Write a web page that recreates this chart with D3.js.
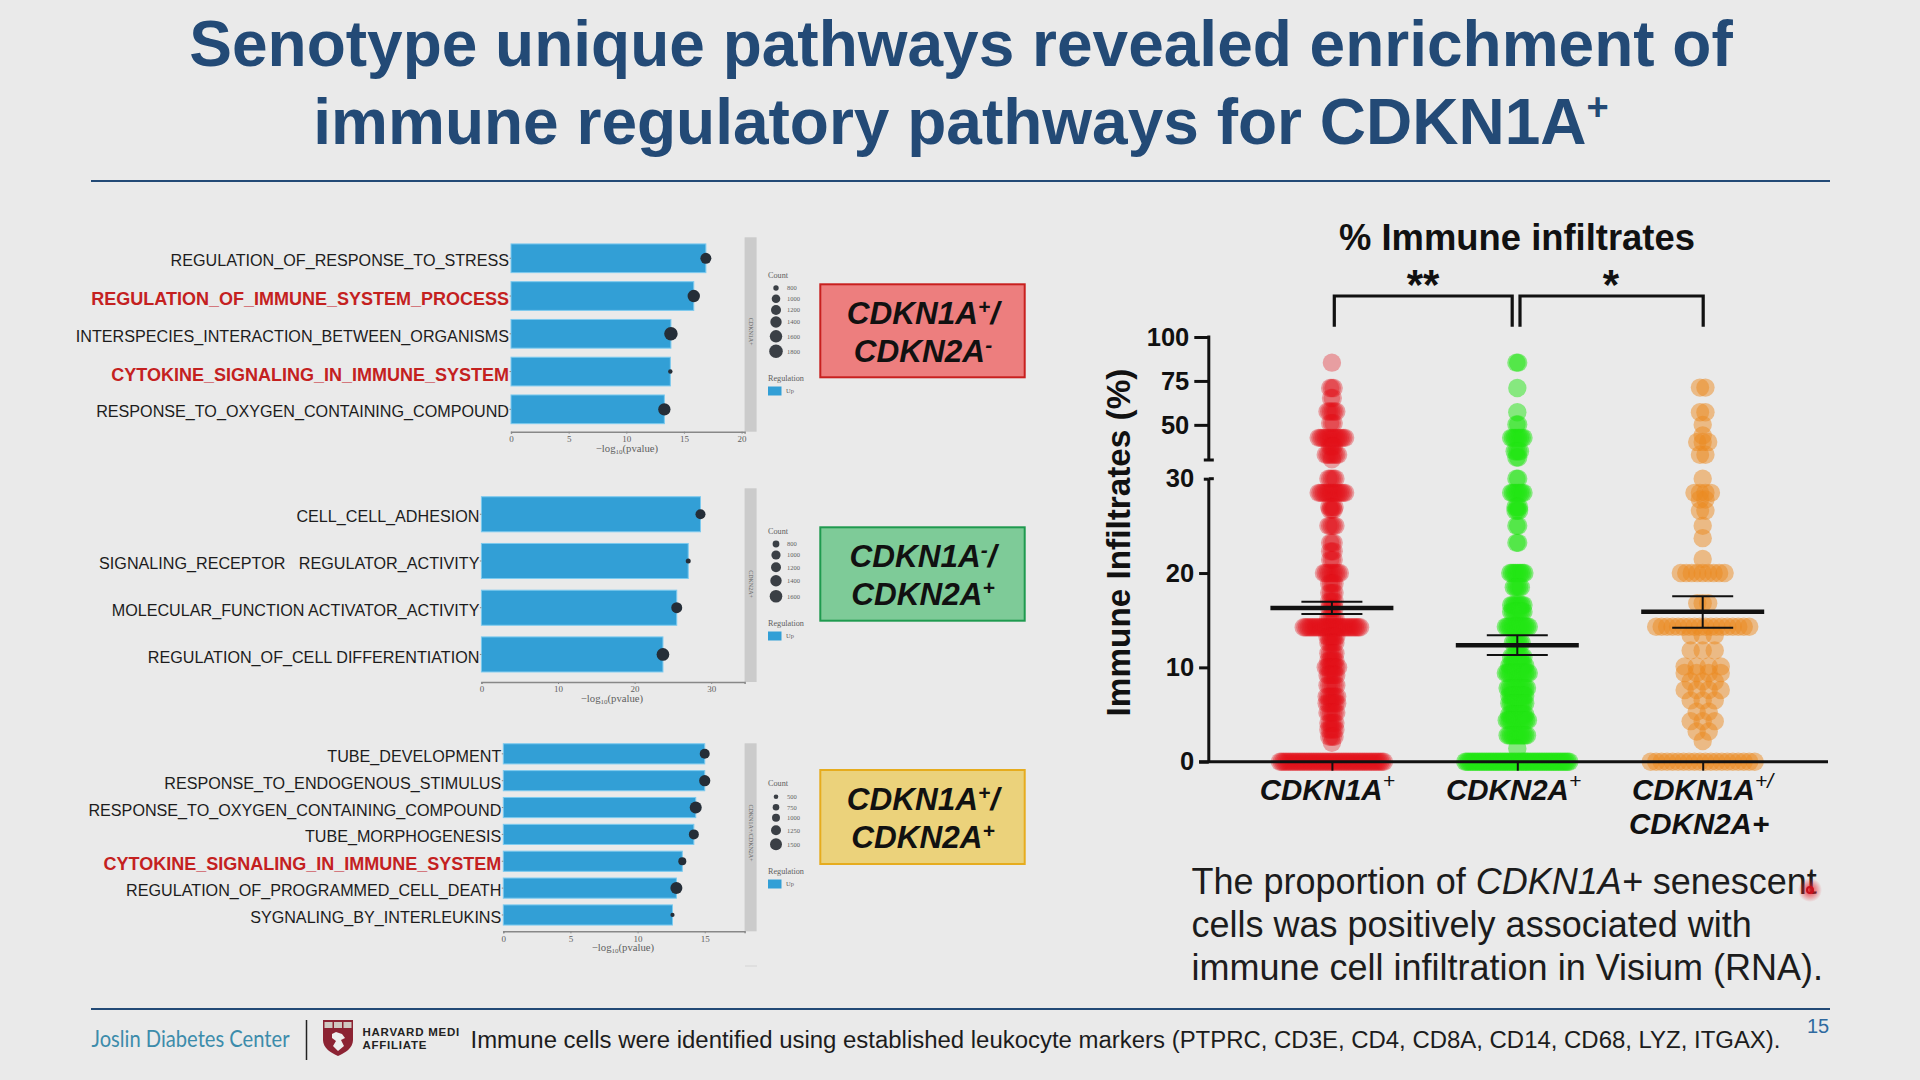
<!DOCTYPE html>
<html>
<head>
<meta charset="utf-8">
<script src="https://cdnjs.cloudflare.com/ajax/libs/d3/7.8.5/d3.min.js"></script>
<style>
	html, body { margin: 0; padding: 0; background: #eaeaea; overflow: hidden; }
	svg { display: block; }
	text { font-family: "Liberation Sans", Arial, sans-serif; }
	.tiny text, text.tiny { font-family: "Liberation Serif", serif; fill: #5f5f5f; }
</style>
</head>
<body>
<div id="slide"></div>
<script>
// bar panels
var terms1 = ["REGULATION_OF_RESPONSE_TO_STRESS", "REGULATION_OF_IMMUNE_SYSTEM_PROCESS", "INTERSPECIES_INTERACTION_BETWEEN_ORGANISMS", "CYTOKINE_SIGNALING_IN_IMMUNE_SYSTEM", "RESPONSE_TO_OXYGEN_CONTAINING_COMPOUND"];
var pvalues1 = [16.9, 15.85, 13.87, 13.82, 13.3];
var counts1 = [1340, 1600, 1780, 740, 1580];
var countTicks1 = [800, 1000, 1200, 1400, 1600, 1800];
var axisTicks1 = [0, 5, 10, 15, 20];

var terms2 = ["CELL_CELL_ADHESION", "SIGNALING_RECEPTOR   REGULATOR_ACTIVITY", "MOLECULAR_FUNCTION ACTIVATOR_ACTIVITY", "REGULATION_OF_CELL DIFFERENTIATION"];
var pvalues2 = [28.6, 27.0, 25.5, 23.7];
var counts2 = [1200, 650, 1340, 1620];
var countTicks2 = [800, 1000, 1200, 1400, 1600];
var axisTicks2 = [0, 10, 20, 30];

var terms3 = ["TUBE_DEVELOPMENT", "RESPONSE_TO_ENDOGENOUS_STIMULUS", "RESPONSE_TO_OXYGEN_CONTAINING_COMPOUND", "TUBE_MORPHOGENESIS", "CYTOKINE_SIGNALING_IN_IMMUNE_SYSTEM", "REGULATION_OF_PROGRAMMED_CELL_DEATH", "SYGNALING_BY_INTERLEUKINS"];
var pvalues3 = [15.0, 15.0, 14.33, 14.19, 13.33, 12.89, 12.6];
var counts3 = [1250, 1400, 1500, 1250, 1000, 1500, 450];
var countTicks3 = [500, 750, 1000, 1250, 1500];
var axisTicks3 = [0, 5, 10, 15];

var highlighted = ["REGULATION_OF_IMMUNE_SYSTEM_PROCESS", "CYTOKINE_SIGNALING_IN_IMMUNE_SYSTEM"];

// scatter: one value per row of dots and how many dots sit on that row
var groups = ["CDKN1A", "CDKN2A", "BOTH"];
var redValues = [85.4, 71, 65.3, 57.6, 51, 42.6, 37.7, 33, 30.4, 30, 28.5, 27, 26.7, 25, 23.2, 22.3, 21.4, 20, 18.9, 17.9, 17, 16.3, 15.2, 14.25, 13.25, 12.6, 11.5, 10.7, 10, 9.2, 8.1, 6.9, 6.2, 5.2, 4.1, 3.4, 2.65, 2, 0];
var redCounts = [1, 3, 2, 6, 3, 16, 3, 8, 1, 5, 16, 4, 3, 5, 3, 3, 3, 10, 4, 4, 4, 4, 5, 33, 6, 5, 5, 5, 8, 6, 6, 7, 7, 6, 5, 5, 4, 1, 60];
var greenValues = [85.4, 71, 57.2, 50.2, 42.6, 35, 31.4, 30, 28.5, 27, 26.6, 25, 23.2, 20, 18.5, 16.6, 15.9, 14.3, 12.6, 11.1, 10.2, 9.4, 7.8, 7, 6.2, 5, 4.4, 2.8, 1.4, 0];
var greenCounts = [2, 1, 1, 2, 8, 4, 2, 2, 8, 3, 3, 2, 2, 9, 5, 8, 8, 14, 6, 8, 10, 14, 12, 10, 10, 10, 13, 12, 1, 60];
var orangeValues = [71.2, 57.2, 50, 44, 40.3, 33, 30, 28.5, 27.8, 26.6, 25, 23.7, 21.5, 20, 16.8, 14.3, 13.4, 11.8, 10.1, 9.4, 8.5, 7.6, 6.5, 5.3, 4.3, 3.2, 2.2, 0];
var orangeCounts = [2, 2, 1, 1, 3, 2, 1, 4, 2, 2, 1, 1, 1, 9, 3, 18, 3, 3, 4, 4, 3, 4, 3, 2, 3, 2, 1, 20];
var means = [16.3, 12.34, 15.9];
var semTop = [16.95, 13.4, 17.55];
var semBottom = [15.65, 11.3, 14.2];
var yTicksUpper = [50, 75, 100];
var yTicksLower = [0, 10, 20];

var width = 1920, height = 1080;

var svg = d3.select("#slide").append("svg")
	.attr("width", width)
	.attr("height", height);

svg.append("rect").attr("width", width).attr("height", height).attr("fill", "#eaeaea");

// plain + superscript runs, so the boxes and labels stay real text
function addRuns(textSel, runs) {
	runs.forEach(function(r) {
		var t = textSel.append("tspan").text(r.t);
		if (r.style) t.attr("font-style", r.style);
		if (r.weight) t.attr("font-weight", r.weight);
		if (r.size) t.attr("font-size", r.size);
		if (r.dy) t.attr("dy", r.dy);
	});
}

// header
var titleColor = "#234a76";
svg.append("text").attr("x", 961).attr("y", 66).attr("text-anchor", "middle")
	.attr("font-size", 64).attr("font-weight", "bold").attr("fill", titleColor)
	.text("Senotype unique pathways revealed enrichment of");
var title2 = svg.append("text").attr("x", 961).attr("y", 144).attr("text-anchor", "middle")
	.attr("font-size", 64).attr("font-weight", "bold").attr("fill", titleColor);
addRuns(title2, [{t: "immune regulatory pathways for CDKN1A"}, {t: "+", size: 38, dy: -24}]);

svg.append("line").attr("x1", 91).attr("x2", 1830).attr("y1", 181).attr("y2", 181)
	.attr("stroke", "#234a76").attr("stroke-width", 2);
svg.append("line").attr("x1", 91).attr("x2", 1830).attr("y1", 1009).attr("y2", 1009)
	.attr("stroke", "#234a76").attr("stroke-width", 2);

function barPanel(cfg) {
	var g = svg.append("g");
	var x = d3.scaleLinear().domain([0, cfg.xMax]).range([cfg.x0, 744.6]);
	var y = d3.scaleBand().domain(cfg.terms).range(cfg.yRange).paddingInner(cfg.pad).paddingOuter(cfg.pad / 2);
	var r = d3.scaleLinear().domain(cfg.countTicks).range(cfg.keyRadius);

	// facet strip
	g.append("rect").attr("x", 744.6).attr("width", 12).attr("y", cfg.stripTop)
		.attr("height", cfg.axisY - cfg.stripTop).attr("fill", "#cbcbcb");
	g.append("text").attr("class", "tiny")
		.attr("transform", "translate(748.5," + cfg.stripLabelY + ") rotate(90)")
		.attr("text-anchor", "middle").attr("font-size", 6).text(cfg.strip);

	g.selectAll("rect.bar").data(cfg.terms).enter().append("rect")
		.attr("class", "bar")
		.attr("x", x(0))
		.attr("y", function(d) { return y(d); })
		.attr("height", y.bandwidth())
		.attr("width", function(d, i) { return x(cfg.pvalues[i]) - x(0); })
		.attr("fill", "#329fd6")
		.attr("stroke", "#7ccaef")
		.attr("stroke-width", 1);

	g.selectAll("circle.dot").data(cfg.terms).enter().append("circle")
		.attr("class", "dot")
		.attr("cx", function(d, i) { return x(cfg.pvalues[i]); })
		.attr("cy", function(d) { return y(d) + y.bandwidth() / 2; })
		.attr("r", function(d, i) { return r(cfg.counts[i]); })
		.attr("fill", "#252e38");

	// term labels
	var left = g.append("g").attr("transform", "translate(" + x(0) + ",0)")
		.call(d3.axisLeft(y).tickSize(1.5).tickPadding(0.5));
	left.select(".domain").remove();
	left.selectAll("line").attr("stroke", "#888");
	left.selectAll("text")
		.style("white-space", "pre")
		.attr("font-family", "Liberation Sans")
		.attr("dy", "0.5em")
		.attr("font-size", function(d) { return highlighted.indexOf(d) >= 0 ? 18 : 16.15; })
		.attr("fill", function(d) { return highlighted.indexOf(d) >= 0 ? "#c4211f" : "#1c1c1c"; })
		.attr("font-weight", function(d) { return highlighted.indexOf(d) >= 0 ? "bold" : "normal"; });

	// value axis
	var bottom = g.append("g").attr("class", "tiny").attr("transform", "translate(0," + cfg.axisY + ")")
		.call(d3.axisBottom(x).tickValues(cfg.ticks).tickSizeOuter(0).tickSize(2).tickPadding(2));
	bottom.select(".domain").attr("stroke", "#888").attr("stroke-width", 1.5);
	bottom.selectAll("line").attr("stroke", "#888");
	bottom.selectAll("text").attr("font-size", 9).attr("font-family", "Liberation Serif").attr("fill", "#5f5f5f");

	var axTitle = g.append("text").attr("class", "tiny").attr("text-anchor", "middle")
		.attr("x", cfg.titleX).attr("y", cfg.axisY + 20).attr("font-size", 10.7);
	addRuns(axTitle, [{t: "\u2212log"}, {t: "10", size: 7, dy: 2}, {t: "(pvalue)", dy: -2}]);

	// legend
	g.append("text").attr("class", "tiny").attr("x", 768).attr("y", cfg.countY).attr("font-size", 8.2).text("Count");
	g.selectAll("circle.key").data(cfg.countTicks).enter().append("circle")
		.attr("class", "key")
		.attr("cx", 776)
		.attr("cy", function(d, i) { return cfg.keyY[i]; })
		.attr("r", function(d) { return r(d); })
		.attr("fill", "#3a3f45");
	g.selectAll("text.keyLabel").data(cfg.countTicks).enter().append("text")
		.attr("class", "tiny keyLabel")
		.attr("x", 787)
		.attr("y", function(d, i) { return cfg.keyY[i] + 2.2; })
		.attr("font-size", 6.5)
		.text(function(d) { return d; });
	g.append("text").attr("class", "tiny").attr("x", 768).attr("y", cfg.regY).attr("font-size", 8.2).text("Regulation");
	g.append("rect").attr("x", 768).attr("y", cfg.regY + 5.5).attr("width", 13.5).attr("height", 9).attr("fill", "#329fd6");
	g.append("text").attr("class", "tiny").attr("x", 786).attr("y", cfg.regY + 12).attr("font-size", 6.5).text("Up");
}

barPanel({terms: terms1, pvalues: pvalues1, counts: counts1, ticks: axisTicks1, countTicks: countTicks1,
	x0: 511, xMax: 20.26, yRange: [239.4, 428.2], pad: 0.24, axisY: 431.7, stripTop: 237.3, stripLabelY: 331.7, strip: "CDKN1A+",
	keyRadius: [2.7, 4.3, 5, 5.7, 6.2, 6.8], titleX: 627, countY: 278, keyY: [288, 298.7, 310, 322, 336.3, 351.3], regY: 381});
barPanel({terms: terms2, pvalues: pvalues2, counts: counts2, ticks: axisTicks2, countTicks: countTicks2,
	x0: 481.4, xMax: 34.36, yRange: [490.9, 677.8], pad: 0.25, axisY: 682, stripTop: 488.3, stripLabelY: 584, strip: "CDKN2A+",
	keyRadius: [3.4, 4.6, 5, 5.7, 6.3], titleX: 612, countY: 534, keyY: [544, 555, 567.3, 580.7, 596.3], regY: 626});
barPanel({terms: terms3, pvalues: pvalues3, counts: counts3, ticks: axisTicks3, countTicks: countTicks3,
	x0: 503.3, xMax: 17.97, yRange: [740.4, 928.4], pad: 0.25, axisY: 931.3, stripTop: 743.3, stripLabelY: 833, strip: "CDKN1A+/CDKN2A+",
	keyRadius: [2.3, 3.3, 4, 5, 6], titleX: 623, countY: 786, keyY: [796.7, 807.3, 817.7, 830.3, 844.3], regY: 874});
svg.append("line").attr("x1", 745).attr("x2", 757).attr("y1", 966).attr("y2", 966).attr("stroke", "#d4d4d4");

// coloured senotype boxes
var boxes = [
	{y: 284.3, h: 93, fill: "#ed7e7e", stroke: "#c8201f", line1: [{t: "CDKN1A"}, {t: "+", size: 21, dy: -10}, {t: "/", dy: 10}], line2: [{t: "CDKN2A"}, {t: "-", size: 21, dy: -10}]},
	{y: 527.3, h: 93.4, fill: "#7ecb98", stroke: "#1f9a4f", line1: [{t: "CDKN1A"}, {t: "-", size: 21, dy: -10}, {t: "/", dy: 10}], line2: [{t: "CDKN2A"}, {t: "+", size: 21, dy: -10}]},
	{y: 770, h: 94, fill: "#ebd27b", stroke: "#e6ac1e", line1: [{t: "CDKN1A"}, {t: "+", size: 21, dy: -10}, {t: "/", dy: 10}], line2: [{t: "CDKN2A"}, {t: "+", size: 21, dy: -10}]}
];
boxes.forEach(function(b) {
	svg.append("rect").attr("x", 820.3).attr("y", b.y).attr("width", 204.4).attr("height", b.h)
		.attr("fill", b.fill).attr("stroke", b.stroke).attr("stroke-width", 2);
	[b.line1, b.line2].forEach(function(line, i) {
		var t = svg.append("text").attr("x", 923).attr("y", b.y + 40 + i * 38).attr("text-anchor", "middle")
			.attr("font-size", 31.5).attr("font-weight", "bold").attr("font-style", "italic").attr("fill", "#111");
		addRuns(t, line);
	});
});

// scatter panel
var yScatter = d3.scaleLinear().domain([0, 30, 30.0001, 100]).range([761.7, 478.7, 460, 337]);
var xGroup = d3.scalePoint().domain(groups).range([1331.9, 1702.7]);
var rowSpan = 104, dotRadius = 9.2;

// sparseWiden: thin rows low in the column sit further apart, as in the orange column
function swarm(group, values, counts, color, alpha, sparseWiden) {
	var spacing = rowSpan / (d3.max(counts) - 1);
	var points = [];
	values.forEach(function(v, row) {
		var n = counts[row];
		var step = (v < 14 && n <= 5) ? spacing * sparseWiden : spacing;
		d3.range(n).forEach(function(i) {
			points.push({value: v, offset: (i - (n - 1) / 2) * step});
		});
	});
	svg.append("g").selectAll("circle").data(points).enter().append("circle")
		.attr("cx", function(d) { return xGroup(group) + d.offset; })
		.attr("cy", function(d) { return yScatter(d.value); })
		.attr("r", dotRadius)
		.attr("fill", color)
		.attr("fill-opacity", alpha);
}
swarm(groups[0], redValues, redCounts, "#e3121a", 0.35, 1);
swarm(groups[1], greenValues, greenCounts, "#22e614", 0.5, 1);
swarm(groups[2], orangeValues, orangeCounts, "#ec8a20", 0.5, 2.2);

// axes
var axisX = 1208.8, ink = "#111";
var upperAxis = svg.append("g").attr("transform", "translate(" + axisX + ",0)")
	.call(d3.axisLeft(yScatter).tickValues(yTicksUpper).tickSize(14.5).tickPadding(5));
var lowerAxis = svg.append("g").attr("transform", "translate(" + axisX + ",0)")
	.call(d3.axisLeft(yScatter).tickValues(yTicksLower).tickSize(9.7).tickPadding(5));
var thirtyAxis = svg.append("g").attr("transform", "translate(" + axisX + ",0)")
	.call(d3.axisLeft(yScatter).tickValues([30]).tickSize(5).tickPadding(9.7));
[upperAxis, lowerAxis, thirtyAxis].forEach(function(sel) {
	sel.select(".domain").remove();
	sel.selectAll("line").attr("stroke", ink).attr("stroke-width", 3);
	sel.selectAll("text").attr("font-size", 25.5).attr("font-weight", "bold").attr("font-family", "Liberation Sans").attr("fill", ink);
});

function axisLine(x1, x2, y1, y2) {
	svg.append("line").attr("x1", x1).attr("x2", x2).attr("y1", y1).attr("y2", y2)
		.attr("stroke", ink).attr("stroke-width", 3);
}
axisLine(axisX, axisX, yScatter(100) - 1.5, yScatter(30.0001));
axisLine(axisX, axisX, yScatter(30), yScatter(0));
axisLine(axisX - 5, axisX + 5, yScatter(30.0001), yScatter(30.0001));
axisLine(axisX, axisX + 5, yScatter(30), yScatter(30));
axisLine(1199, 1828, yScatter(0), yScatter(0));

var bottomAxis = svg.append("g").attr("transform", "translate(0," + yScatter(0) + ")")
	.call(d3.axisBottom(xGroup).tickSize(9).tickFormat(""));
bottomAxis.select(".domain").remove();
bottomAxis.selectAll("line").attr("stroke", ink).attr("stroke-width", 2);

// mean and sem
var summary = svg.append("g");
groups.forEach(function(g, i) {
	var cx = xGroup(g);
	summary.append("line").attr("x1", cx - 61.5).attr("x2", cx + 61.5)
		.attr("y1", yScatter(means[i])).attr("y2", yScatter(means[i]))
		.attr("stroke", ink).attr("stroke-width", 4.5);
	summary.append("line").attr("x1", cx).attr("x2", cx)
		.attr("y1", yScatter(semTop[i])).attr("y2", yScatter(semBottom[i]))
		.attr("stroke", ink).attr("stroke-width", 2);
	[semTop[i], semBottom[i]].forEach(function(v) {
		summary.append("line").attr("x1", cx - 30.5).attr("x2", cx + 30.5)
			.attr("y1", yScatter(v)).attr("y2", yScatter(v))
			.attr("stroke", ink).attr("stroke-width", 2);
	});
});

// titles and brackets
svg.append("text").attr("x", 1517).attr("y", 250).attr("text-anchor", "middle")
	.attr("font-size", 36.4).attr("font-weight", "bold").attr("fill", ink).text("% Immune infiltrates");
svg.append("text")
	.attr("transform", "translate(1130,542.5) rotate(-90)").attr("text-anchor", "middle")
	.attr("font-size", 33.3).attr("font-weight", "bold").attr("fill", ink).text("Immune Infiltrates (%)");

function bracket(x1, x2) {
	svg.append("path").attr("d", d3.line()([[x1, 326.7], [x1, 296], [x2, 296], [x2, 326.7]]))
		.attr("fill", "none").attr("stroke", ink).attr("stroke-width", 3.2);
}
bracket(1334.3, 1512.2);
bracket(1520, 1703.2);
svg.append("text").attr("x", 1423).attr("y", 299.4).attr("text-anchor", "middle").attr("font-size", 42).attr("font-weight", "bold").attr("fill", ink).text("**");
svg.append("text").attr("x", 1611).attr("y", 299.4).attr("text-anchor", "middle").attr("font-size", 42).attr("font-weight", "bold").attr("fill", ink).text("*");

// group labels
var groupLabels = [
	{x: 1259.7, y: 800, runs: [{t: "CDKN1A"}, {t: "+", size: 21, weight: "normal", dy: -12}]},
	{x: 1446, y: 800, runs: [{t: "CDKN2A"}, {t: "+", size: 21, weight: "normal", dy: -12}]},
	{x: 1632, y: 800, runs: [{t: "CDKN1A"}, {t: "+/", size: 21, weight: "normal", dy: -12}]},
	{x: 1629, y: 834, runs: [{t: "CDKN2A+"}]}
];
groupLabels.forEach(function(l) {
	var t = svg.append("text").attr("x", l.x).attr("y", l.y)
		.attr("font-size", 29.5).attr("font-weight", "bold").attr("font-style", "italic").attr("fill", ink);
	addRuns(t, l.runs);
});

// body copy
var bodyLines = [
	[{t: "The proportion of "}, {t: "CDKN1A+", style: "italic"}, {t: " senescent"}],
	[{t: "cells was positively associated with"}],
	[{t: "immune cell infiltration in Visium (RNA)."}]
];
bodyLines.forEach(function(line, i) {
	var t = svg.append("text").attr("x", 1191.5).attr("y", 894 + i * 43)
		.attr("font-size", 36).attr("fill", "#1c1c1c");
	addRuns(t, line);
});

// laser pointer
var glow = svg.append("defs").append("radialGradient").attr("id", "glow");
glow.append("stop").attr("offset", "0%").attr("stop-color", "#e8202a").attr("stop-opacity", 0.9);
glow.append("stop").attr("offset", "100%").attr("stop-color", "#e8202a").attr("stop-opacity", 0);
svg.append("circle").attr("cx", 1810).attr("cy", 890).attr("r", 12).attr("fill", "url(#glow)");
svg.append("circle").attr("cx", 1810).attr("cy", 890).attr("r", 3).attr("fill", "none").attr("stroke", "#c9101c").attr("stroke-width", 2);

// footer
svg.append("text").attr("x", 91.5).attr("y", 1047).style("font-family", "Lato")
	.attr("font-size", 24).attr("fill", "#3c8cab")
	.attr("textLength", 198).attr("lengthAdjust", "spacingAndGlyphs")
	.text("Joslin Diabetes Center");
svg.append("line").attr("x1", 306.5).attr("x2", 306.5).attr("y1", 1020).attr("y2", 1060).attr("stroke", "#222").attr("stroke-width", 1.5);

var shield = svg.append("g").attr("transform", "translate(323,1020)");
shield.append("path").attr("d", "M0,0H30V20C30,28 22,33 15,36C8,33 0,28 0,20Z").attr("fill", "#8c2333");
shield.selectAll("rect").data([1.5, 11, 20.5]).enter().append("rect")
	.attr("x", function(d) { return d; }).attr("y", 2).attr("width", 8).attr("height", 6).attr("fill", "#cfc9c2");
shield.append("path").attr("d", "M9,14L13,12L19,14L22,18L18,20L21,26L15,31L10,26L13,21L9,18Z").attr("fill", "#eee");

svg.append("text").attr("x", 362.5).attr("y", 1035.5).style("letter-spacing", "0.75px").attr("font-size", 11.5).attr("font-weight", "bold").attr("fill", "#222").text("HARVARD MEDI");
svg.append("text").attr("x", 362.5).attr("y", 1049).style("letter-spacing", "0.75px").attr("font-size", 11.5).attr("font-weight", "bold").attr("fill", "#222").text("AFFILIATE");

svg.append("text").attr("x", 470.5).attr("y", 1048).attr("font-size", 23.95).attr("fill", "#1c1c1c")
	.text("Immune cells were identified using established leukocyte markers (PTPRC, CD3E, CD4, CD8A, CD14, CD68, LYZ, ITGAX).");
svg.append("text").attr("x", 1807).attr("y", 1033).attr("font-size", 20).attr("fill", "#2f6aa0").text("15");
</script>
</body>
</html>
